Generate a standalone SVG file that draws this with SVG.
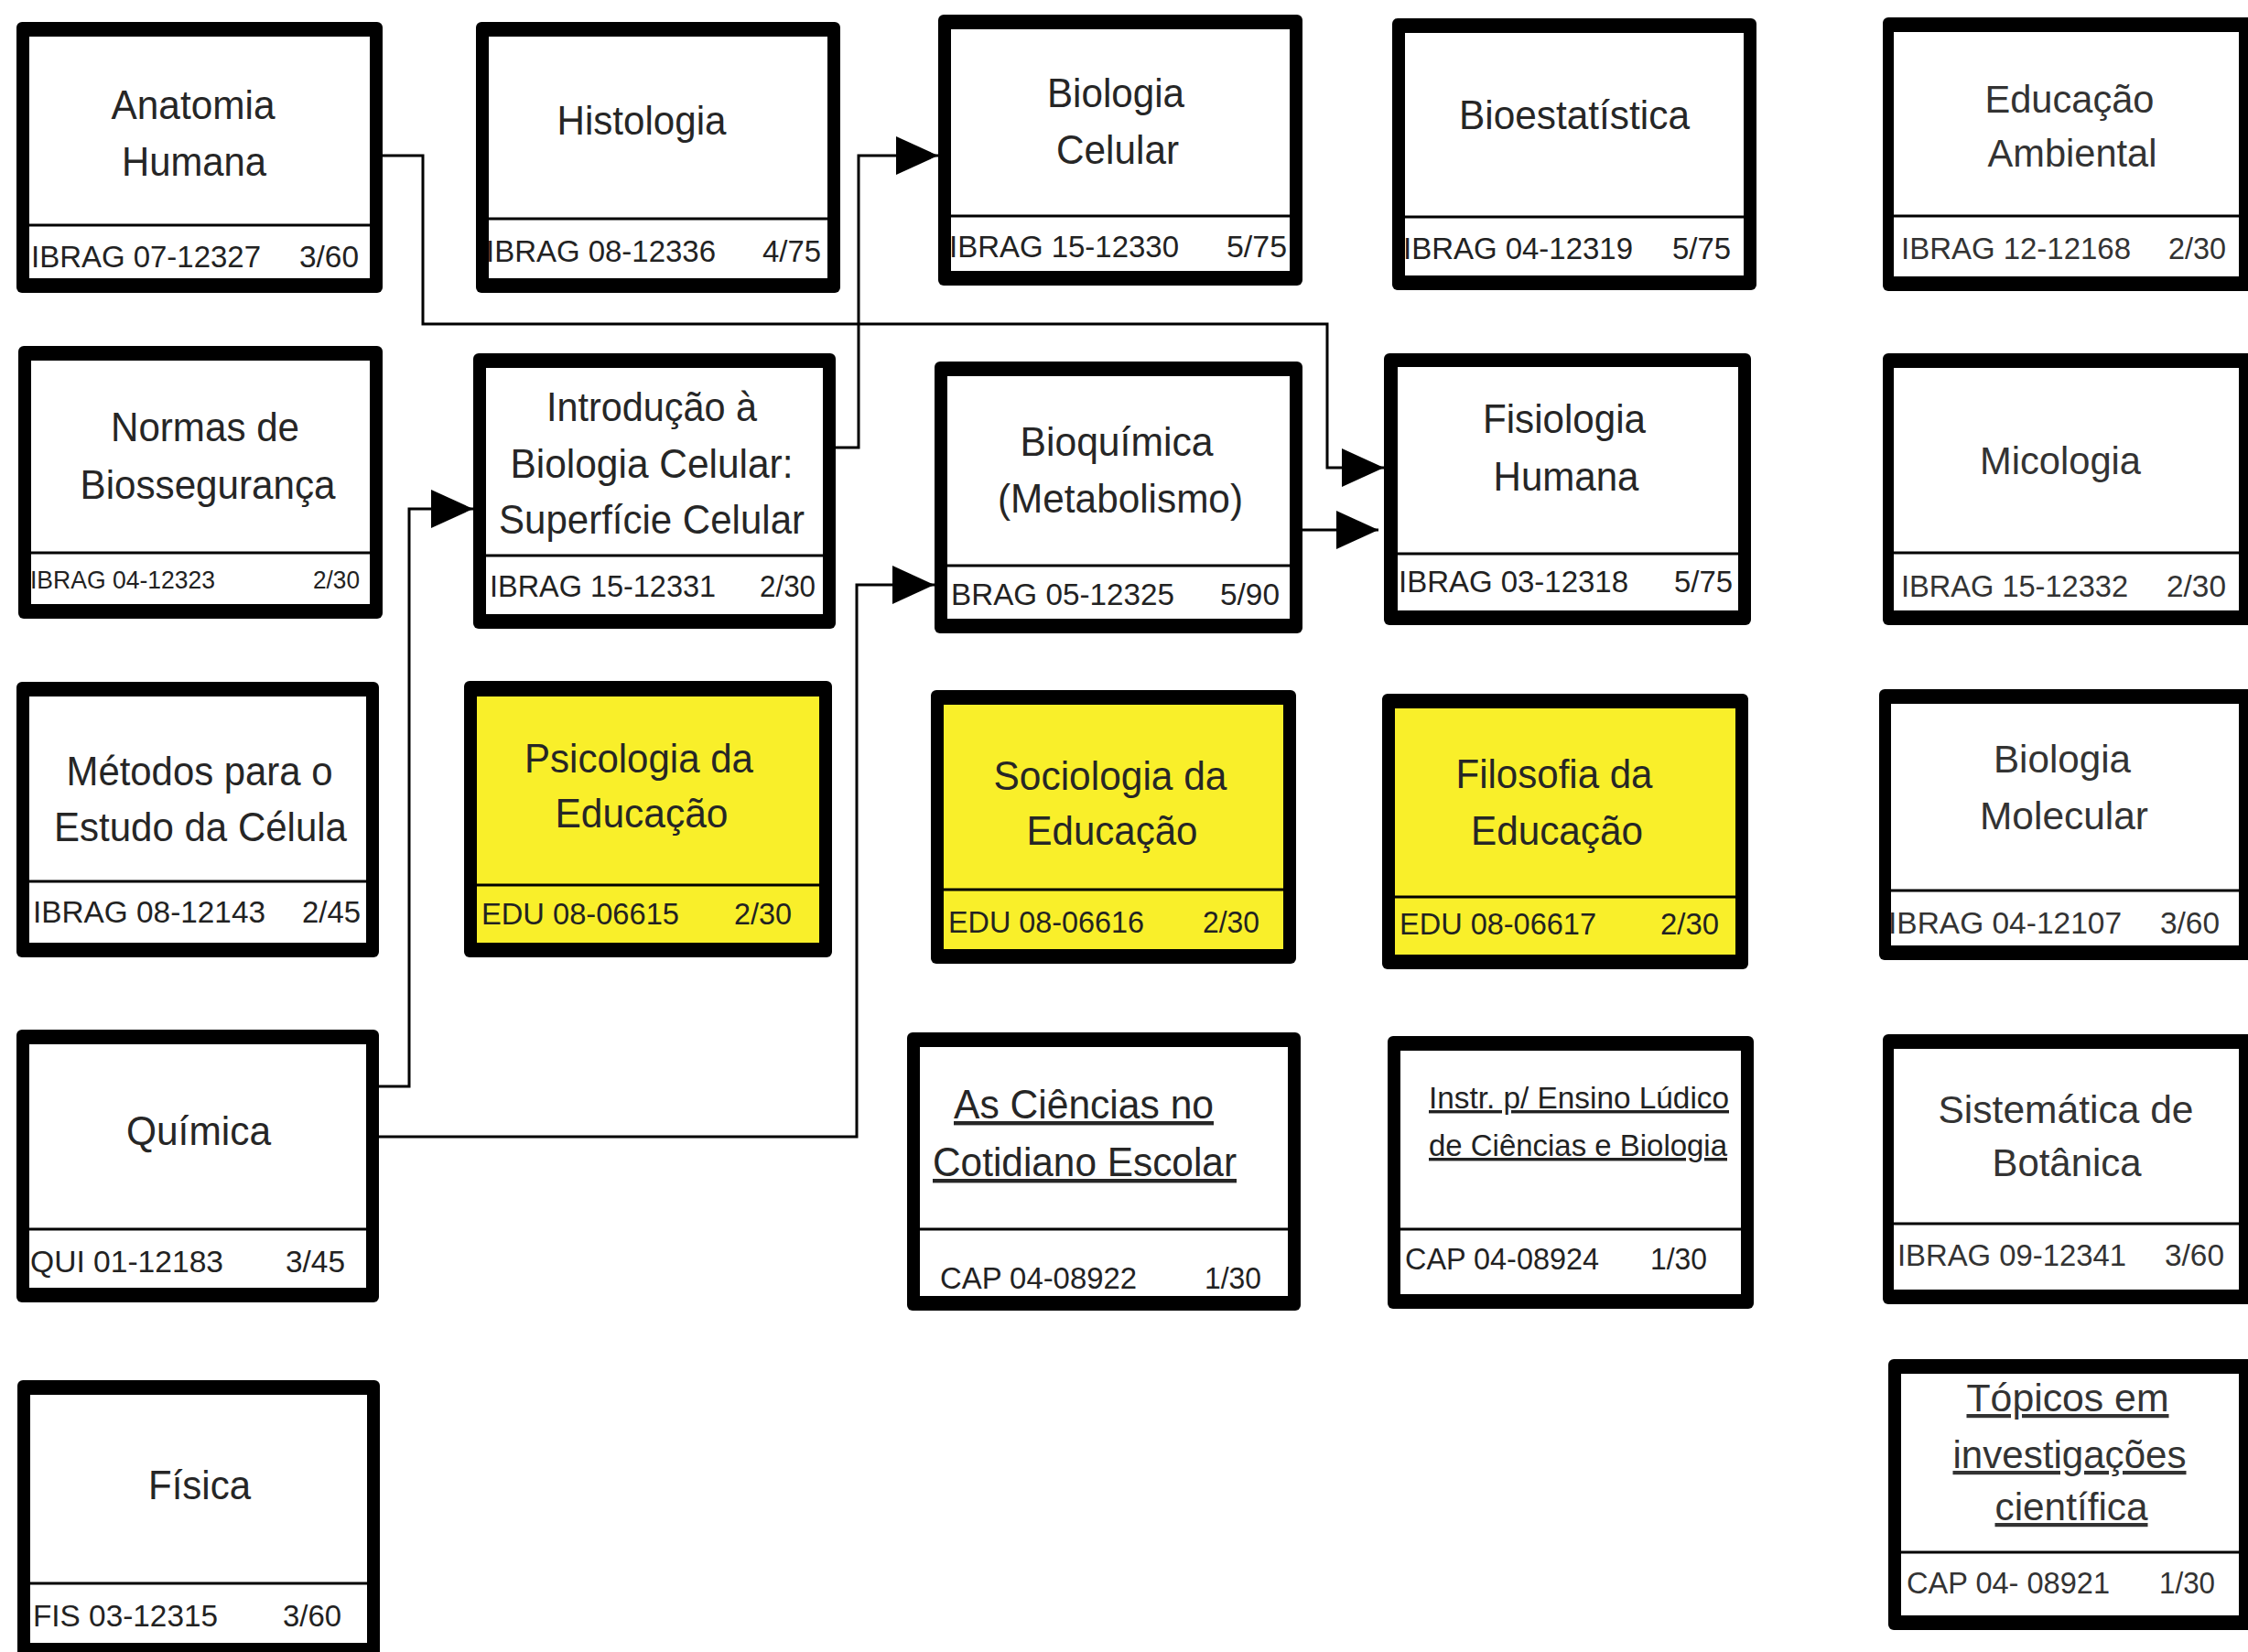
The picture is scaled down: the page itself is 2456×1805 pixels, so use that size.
<svg xmlns="http://www.w3.org/2000/svg" width="2456" height="1805" viewBox="0 0 2456 1805">
<defs>
<style>
.o{fill:#000}
.w{fill:#fff}
.y{fill:#F9EF2A}
.d{stroke:#000;stroke-width:3}
.tn{font-family:"Liberation Sans Narrow","Liberation Sans",Arial,sans-serif;font-size:44px;fill:#262626;text-anchor:middle}
.tw{font-family:"Liberation Sans",Arial,sans-serif;font-size:42px;fill:#333;text-anchor:middle}
.fn{font-family:"Liberation Sans Narrow","Liberation Sans",Arial,sans-serif;font-size:34px;fill:#222}
.fw{font-family:"Liberation Sans",Arial,sans-serif;font-size:34px;fill:#333}
.u{text-decoration:underline}
.c{fill:none;stroke:#000;stroke-width:3}
</style>
<marker id="ah" markerUnits="userSpaceOnUse" markerWidth="46" markerHeight="42" refX="46" refY="21" orient="auto">
<path d="M0,0 L46,21 L0,42 Z" fill="#000"/>
</marker>
</defs>
<rect width="2456" height="1805" fill="#fff"/>

<g id="connectors">
<polyline class="c" points="418,170 462,170 462,354 1450,354 1450,511 1512,511" marker-end="url(#ah)"/>
<polyline class="c" points="912,489 938,489 938,170 1025,170" marker-end="url(#ah)"/>
<polyline class="c" points="413,1187 447,1187 447,556 517,556" marker-end="url(#ah)"/>
<polyline class="c" points="413,1242 936,1242 936,639 1021,639" marker-end="url(#ah)"/>
<polyline class="c" points="1423,579 1506,579" marker-end="url(#ah)"/>
</g>

<g id="anatomia-humana">
<rect class="o" x="18" y="24" width="400" height="296" rx="6"/>
<rect class="w" x="32" y="40" width="372" height="264"/>
<line class="d" x1="32" y1="246" x2="404" y2="246"/>
<text class="tn" x="211" y="130" textLength="179" lengthAdjust="spacingAndGlyphs">Anatomia</text>
<text class="tn" x="212" y="192" textLength="158" lengthAdjust="spacingAndGlyphs">Humana</text>
<text class="fn" x="34" y="292" textLength="251" lengthAdjust="spacingAndGlyphs">IBRAG 07-12327</text>
<text class="fn" x="327" y="292" textLength="65" lengthAdjust="spacingAndGlyphs">3/60</text>
</g>

<g id="histologia">
<rect class="o" x="520" y="24" width="398" height="296" rx="6"/>
<rect class="w" x="534" y="40" width="370" height="264"/>
<line class="d" x1="534" y1="239" x2="904" y2="239"/>
<text class="tn" x="701" y="147" textLength="185" lengthAdjust="spacingAndGlyphs">Histologia</text>
<text class="fn" x="531" y="286" textLength="251" lengthAdjust="spacingAndGlyphs">IBRAG 08-12336</text>
<text class="fn" x="833" y="286" textLength="64" lengthAdjust="spacingAndGlyphs">4/75</text>
</g>

<g id="biologia-celular">
<rect class="o" x="1025" y="16" width="398" height="296" rx="6"/>
<rect class="w" x="1039" y="32" width="370" height="264"/>
<line class="d" x1="1039" y1="236" x2="1409" y2="236"/>
<text class="tn" x="1219" y="117" textLength="150" lengthAdjust="spacingAndGlyphs">Biologia</text>
<text class="tn" x="1221" y="179" textLength="134" lengthAdjust="spacingAndGlyphs">Celular</text>
<text class="fn" x="1037" y="281" textLength="251" lengthAdjust="spacingAndGlyphs">IBRAG 15-12330</text>
<text class="fn" x="1340" y="281" textLength="66" lengthAdjust="spacingAndGlyphs">5/75</text>
</g>

<g id="bioestatistica">
<rect class="o" x="1521" y="20" width="398" height="297" rx="6"/>
<rect class="w" x="1535" y="36" width="370" height="265"/>
<line class="d" x1="1535" y1="237" x2="1905" y2="237"/>
<text class="tn" x="1720" y="141" textLength="252" lengthAdjust="spacingAndGlyphs">Bioestatística</text>
<text class="fn" x="1533" y="283" textLength="251" lengthAdjust="spacingAndGlyphs">IBRAG 04-12319</text>
<text class="fn" x="1827" y="283" textLength="64" lengthAdjust="spacingAndGlyphs">5/75</text>
</g>

<g id="educacao-ambiental">
<rect class="o" x="2057" y="19" width="404" height="299" rx="6"/>
<rect class="w" x="2069" y="35" width="377" height="267"/>
<line class="d" x1="2069" y1="236" x2="2446" y2="236"/>
<text class="tw" x="2261" y="123" textLength="185" lengthAdjust="spacingAndGlyphs">Educação</text>
<text class="tw" x="2264" y="182" textLength="185" lengthAdjust="spacingAndGlyphs">Ambiental</text>
<text class="fw" x="2077" y="283" textLength="251" lengthAdjust="spacingAndGlyphs">IBRAG 12-12168</text>
<text class="fw" x="2369" y="283" textLength="63" lengthAdjust="spacingAndGlyphs">2/30</text>
</g>

<g id="normas-biosseguranca">
<rect class="o" x="20" y="378" width="398" height="298" rx="6"/>
<rect class="w" x="34" y="394" width="370" height="266"/>
<line class="d" x1="34" y1="604" x2="404" y2="604"/>
<text class="tn" x="224" y="482" textLength="206" lengthAdjust="spacingAndGlyphs">Normas de</text>
<text class="tn" x="227" y="545" textLength="279" lengthAdjust="spacingAndGlyphs">Biossegurança</text>
<text class="fn" x="33" y="643" style="font-size:28px" textLength="202" lengthAdjust="spacingAndGlyphs">IBRAG 04-12323</text>
<text class="fn" x="342" y="643" style="font-size:28px" textLength="51" lengthAdjust="spacingAndGlyphs">2/30</text>
</g>

<g id="introducao-biologia-celular">
<rect class="o" x="517" y="386" width="396" height="301" rx="6"/>
<rect class="w" x="531" y="402" width="368" height="269"/>
<line class="d" x1="531" y1="607" x2="899" y2="607"/>
<text class="tn" x="712" y="460" textLength="230" lengthAdjust="spacingAndGlyphs">Introdução à</text>
<text class="tn" x="712" y="522" textLength="309" lengthAdjust="spacingAndGlyphs">Biologia Celular:</text>
<text class="tn" x="712" y="583" textLength="334" lengthAdjust="spacingAndGlyphs">Superfície Celular</text>
<text class="fn" x="535" y="652" textLength="247" lengthAdjust="spacingAndGlyphs">IBRAG 15-12331</text>
<text class="fn" x="830" y="652" textLength="61" lengthAdjust="spacingAndGlyphs">2/30</text>
</g>

<g id="bioquimica">
<rect class="o" x="1021" y="395" width="402" height="297" rx="6"/>
<rect class="w" x="1035" y="411" width="374" height="265"/>
<line class="d" x1="1035" y1="618" x2="1409" y2="618"/>
<text class="tn" x="1220" y="498" textLength="211" lengthAdjust="spacingAndGlyphs">Bioquímica</text>
<text class="tn" x="1224" y="560" textLength="268" lengthAdjust="spacingAndGlyphs">(Metabolismo)</text>
<text class="fn" x="1039" y="661" textLength="244" lengthAdjust="spacingAndGlyphs">BRAG 05-12325</text>
<text class="fn" x="1333" y="661" textLength="65" lengthAdjust="spacingAndGlyphs">5/90</text>
</g>

<g id="fisiologia-humana">
<rect class="o" x="1512" y="386" width="401" height="297" rx="6"/>
<rect class="w" x="1527" y="401" width="372" height="266"/>
<line class="d" x1="1527" y1="605" x2="1899" y2="605"/>
<text class="tn" x="1709" y="473" textLength="178" lengthAdjust="spacingAndGlyphs">Fisiologia</text>
<text class="tn" x="1711" y="536" textLength="159" lengthAdjust="spacingAndGlyphs">Humana</text>
<text class="fn" x="1528" y="647" textLength="251" lengthAdjust="spacingAndGlyphs">IBRAG 03-12318</text>
<text class="fn" x="1829" y="647" textLength="64" lengthAdjust="spacingAndGlyphs">5/75</text>
</g>

<g id="micologia">
<rect class="o" x="2057" y="386" width="404" height="297" rx="6"/>
<rect class="w" x="2069" y="402" width="377" height="265"/>
<line class="d" x1="2069" y1="604" x2="2446" y2="604"/>
<text class="tw" x="2251" y="518" textLength="176" lengthAdjust="spacingAndGlyphs">Micologia</text>
<text class="fw" x="2077" y="652" textLength="248" lengthAdjust="spacingAndGlyphs">IBRAG 15-12332</text>
<text class="fw" x="2367" y="652" textLength="65" lengthAdjust="spacingAndGlyphs">2/30</text>
</g>

<g id="metodos-estudo-celula">
<rect class="o" x="18" y="745" width="396" height="301" rx="6"/>
<rect class="w" x="32" y="761" width="368" height="269"/>
<line class="d" x1="32" y1="963" x2="400" y2="963"/>
<text class="tn" x="218" y="858" textLength="291" lengthAdjust="spacingAndGlyphs">Métodos para o</text>
<text class="tn" x="219" y="919" textLength="320" lengthAdjust="spacingAndGlyphs">Estudo da Célula</text>
<text class="fn" x="36" y="1008" textLength="254" lengthAdjust="spacingAndGlyphs">IBRAG 08-12143</text>
<text class="fn" x="330" y="1008" textLength="64" lengthAdjust="spacingAndGlyphs">2/45</text>
</g>

<g id="psicologia-educacao">
<rect class="o" x="507" y="744" width="402" height="302" rx="6"/>
<rect class="y" x="521" y="761" width="374" height="269"/>
<line class="d" x1="521" y1="967" x2="895" y2="967"/>
<text class="tn" x="698" y="844" textLength="250" lengthAdjust="spacingAndGlyphs">Psicologia da</text>
<text class="tn" x="701" y="904" textLength="189" lengthAdjust="spacingAndGlyphs">Educação</text>
<text class="fn" x="526" y="1010" textLength="216" lengthAdjust="spacingAndGlyphs">EDU 08-06615</text>
<text class="fn" x="802" y="1010" textLength="63" lengthAdjust="spacingAndGlyphs">2/30</text>
</g>

<g id="sociologia-educacao">
<rect class="o" x="1017" y="754" width="399" height="299" rx="6"/>
<rect class="y" x="1031" y="770" width="371" height="267"/>
<line class="d" x1="1031" y1="972" x2="1402" y2="972"/>
<text class="tn" x="1213" y="863" textLength="255" lengthAdjust="spacingAndGlyphs">Sociologia da</text>
<text class="tn" x="1215" y="923" textLength="187" lengthAdjust="spacingAndGlyphs">Educação</text>
<text class="fn" x="1036" y="1019" textLength="214" lengthAdjust="spacingAndGlyphs">EDU 08-06616</text>
<text class="fn" x="1314" y="1019" textLength="62" lengthAdjust="spacingAndGlyphs">2/30</text>
</g>

<g id="filosofia-educacao">
<rect class="o" x="1510" y="758" width="400" height="301" rx="6"/>
<rect class="y" x="1524" y="774" width="372" height="269"/>
<line class="d" x1="1524" y1="980" x2="1896" y2="980"/>
<text class="tn" x="1698" y="861" textLength="215" lengthAdjust="spacingAndGlyphs">Filosofia da</text>
<text class="tn" x="1701" y="923" textLength="188" lengthAdjust="spacingAndGlyphs">Educação</text>
<text class="fn" x="1529" y="1021" textLength="215" lengthAdjust="spacingAndGlyphs">EDU 08-06617</text>
<text class="fn" x="1814" y="1021" textLength="64" lengthAdjust="spacingAndGlyphs">2/30</text>
</g>

<g id="biologia-molecular">
<rect class="o" x="2053" y="753" width="408" height="296" rx="6"/>
<rect class="w" x="2066" y="769" width="380" height="264"/>
<line class="d" x1="2066" y1="973" x2="2446" y2="973"/>
<text class="tw" x="2253" y="844" textLength="150" lengthAdjust="spacingAndGlyphs">Biologia</text>
<text class="tw" x="2255" y="906" textLength="184" lengthAdjust="spacingAndGlyphs">Molecular</text>
<text class="fw" x="2063" y="1020" textLength="255" lengthAdjust="spacingAndGlyphs">IBRAG 04-12107</text>
<text class="fw" x="2360" y="1020" textLength="65" lengthAdjust="spacingAndGlyphs">3/60</text>
</g>

<g id="quimica">
<rect class="o" x="18" y="1125" width="396" height="298" rx="6"/>
<rect class="w" x="32" y="1141" width="368" height="266"/>
<line class="d" x1="32" y1="1343" x2="400" y2="1343"/>
<text class="tn" x="217" y="1251" textLength="158" lengthAdjust="spacingAndGlyphs">Química</text>
<text class="fn" x="33" y="1390" textLength="211" lengthAdjust="spacingAndGlyphs">QUI 01-12183</text>
<text class="fn" x="312" y="1390" textLength="65" lengthAdjust="spacingAndGlyphs">3/45</text>
</g>

<g id="ciencias-cotidiano-escolar">
<rect class="o" x="991" y="1128" width="430" height="304" rx="6"/>
<rect class="w" x="1005" y="1144" width="402" height="272"/>
<line class="d" x1="1005" y1="1343" x2="1407" y2="1343"/>
<text class="tn u" x="1184" y="1222" textLength="284" lengthAdjust="spacingAndGlyphs">As Ciências no</text>
<text class="tn u" x="1185" y="1285" textLength="332" lengthAdjust="spacingAndGlyphs">Cotidiano Escolar</text>
<text class="fn" x="1027" y="1408" textLength="215" lengthAdjust="spacingAndGlyphs">CAP 04-08922</text>
<text class="fn" x="1316" y="1408" textLength="62" lengthAdjust="spacingAndGlyphs">1/30</text>
</g>

<g id="instr-ensino-ludico">
<rect class="o" x="1516" y="1132" width="400" height="298" rx="6"/>
<rect class="w" x="1530" y="1148" width="372" height="266"/>
<line class="d" x1="1530" y1="1343" x2="1902" y2="1343"/>
<text class="fn u" x="1561" y="1211" textLength="328" lengthAdjust="spacingAndGlyphs">Instr. p/ Ensino Lúdico</text>
<text class="fn u" x="1561" y="1263" textLength="326" lengthAdjust="spacingAndGlyphs">de Ciências e Biologia</text>
<text class="fn" x="1535" y="1387" textLength="212" lengthAdjust="spacingAndGlyphs">CAP 04-08924</text>
<text class="fn" x="1803" y="1387" textLength="62" lengthAdjust="spacingAndGlyphs">1/30</text>
</g>

<g id="sistematica-botanica">
<rect class="o" x="2057" y="1130" width="404" height="295" rx="6"/>
<rect class="w" x="2069" y="1146" width="377" height="263"/>
<line class="d" x1="2069" y1="1337" x2="2446" y2="1337"/>
<text class="tw" x="2257" y="1227" textLength="279" lengthAdjust="spacingAndGlyphs">Sistemática de</text>
<text class="tw" x="2258" y="1285" textLength="163" lengthAdjust="spacingAndGlyphs">Botânica</text>
<text class="fw" x="2073" y="1383" textLength="250" lengthAdjust="spacingAndGlyphs">IBRAG 09-12341</text>
<text class="fw" x="2365" y="1383" textLength="65" lengthAdjust="spacingAndGlyphs">3/60</text>
</g>

<g id="topicos-investigacoes">
<rect class="o" x="2063" y="1485" width="398" height="296" rx="6"/>
<rect class="w" x="2077" y="1501" width="369" height="264"/>
<line class="d" x1="2077" y1="1696" x2="2446" y2="1696"/>
<text class="tw u" x="2259" y="1542" textLength="221" lengthAdjust="spacingAndGlyphs">Tópicos em</text>
<text class="tw u" x="2261" y="1604" textLength="255" lengthAdjust="spacingAndGlyphs">investigações</text>
<text class="tw u" x="2263" y="1661" textLength="167" lengthAdjust="spacingAndGlyphs">científica</text>
<text class="fw" x="2083" y="1741" textLength="222" lengthAdjust="spacingAndGlyphs">CAP 04- 08921</text>
<text class="fw" x="2359" y="1741" textLength="61" lengthAdjust="spacingAndGlyphs">1/30</text>
</g>

<g id="fisica">
<rect class="o" x="19" y="1508" width="396" height="310" rx="6"/>
<rect class="w" x="33" y="1524" width="368" height="271"/>
<line class="d" x1="33" y1="1730" x2="401" y2="1730"/>
<text class="tn" x="218" y="1638" textLength="112" lengthAdjust="spacingAndGlyphs">Física</text>
<text class="fn" x="36" y="1777" textLength="202" lengthAdjust="spacingAndGlyphs">FIS 03-12315</text>
<text class="fn" x="309" y="1777" textLength="64" lengthAdjust="spacingAndGlyphs">3/60</text>
</g>
</svg>
